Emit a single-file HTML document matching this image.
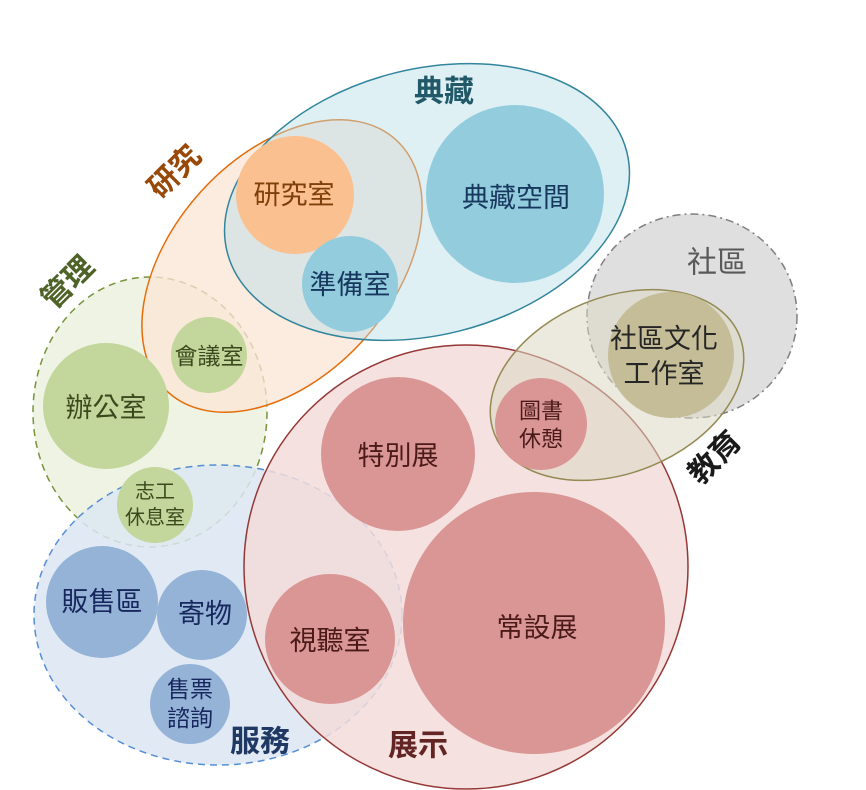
<!DOCTYPE html>
<html><head><meta charset="utf-8"><style>
html,body{margin:0;padding:0;background:#fff;}
svg{display:block}
text{font-family:"Liberation Sans","Noto Sans CJK TC",sans-serif;text-anchor:middle;dominant-baseline:central;}
</style></head><body>
<svg width="866" height="790" viewBox="0 0 866 790" xmlns="http://www.w3.org/2000/svg">
<!-- regions -->
<ellipse cx="150" cy="412" rx="117" ry="135" fill="#ebf1de" fill-opacity="0.85" stroke="#77933c" stroke-width="1.5" stroke-dasharray="7,5"/>
<ellipse cx="218" cy="615" rx="184" ry="150" fill="#dce6f2" fill-opacity="0.85" stroke="#558ed5" stroke-width="1.5" stroke-dasharray="7,5"/>
<ellipse cx="282" cy="266" rx="170" ry="110" transform="rotate(-48 282 266)" fill="#fbe5d6" fill-opacity="0.75" stroke="#e46c0a" stroke-width="1.5"/>
<ellipse cx="427" cy="202" rx="206" ry="133" transform="rotate(-14 427 202)" fill="#b7dee8" fill-opacity="0.45" stroke="#31859c" stroke-width="1.5"/>
<circle cx="466" cy="567" r="222" fill="#f2dcdb" fill-opacity="0.85" stroke="#953735" stroke-width="1.5"/>
<ellipse cx="692" cy="316" rx="105" ry="102" fill="#d9d9d9" fill-opacity="0.85" stroke="#7f7f7f" stroke-width="1.5" stroke-dasharray="8,4,2,4"/>
<ellipse cx="617" cy="385" rx="132" ry="88" transform="rotate(-22 617 385)" fill="#ddd9c3" fill-opacity="0.55" stroke="#948a54" stroke-width="1.5"/>
<!-- circles -->
<circle cx="515" cy="194" r="89" fill="#93cddd"/>
<circle cx="295" cy="195" r="59" fill="#fac090"/>
<circle cx="350" cy="284" r="48" fill="#93cddd"/>
<circle cx="209" cy="355" r="38" fill="#c3d69b"/>
<circle cx="106" cy="406" r="63" fill="#c3d69b"/>
<circle cx="155" cy="505" r="38" fill="#c3d69b"/>
<circle cx="102" cy="602" r="56" fill="#95b3d7"/>
<circle cx="202" cy="615" r="45" fill="#95b3d7"/>
<circle cx="190" cy="704" r="40" fill="#95b3d7"/>
<circle cx="330" cy="639" r="65" fill="#da9694"/>
<circle cx="398" cy="454" r="77" fill="#da9694"/>
<circle cx="534" cy="623" r="131" fill="#da9694"/>
<circle cx="541" cy="424" r="46" fill="#da9694"/>
<circle cx="671" cy="355" r="63" fill="#c4bd97"/>
<!-- circle labels -->
<g fill="#262626" font-size="27">
<text x="516" y="198" fill="#17375e">典藏空間</text>
<text x="294" y="195" fill="#7f3f0a">研究室</text>
<text x="350" y="285" fill="#17375e">準備室</text>
<text x="209" y="356" font-size="23" fill="#3b4a1e">會議室</text>
<text x="106" y="408" fill="#3b4a1e">辦公室</text>
<text x="155" y="492" font-size="20" fill="#3b4a1e">志工</text>
<text x="155" y="518" font-size="20" fill="#3b4a1e">休息室</text>
<text x="102" y="602" fill="#17275e">販售區</text>
<text x="205" y="614" fill="#17275e">寄物</text>
<text x="190" y="689" font-size="23" fill="#17275e">售票</text>
<text x="190" y="718" font-size="23" fill="#17275e">諮詢</text>
<text x="330" y="641" fill="#4a1a19">視聽室</text>
<text x="398" y="456" fill="#4a1a19">特別展</text>
<text x="537" y="628" fill="#4a1a19">常設展</text>
<text x="541" y="411" font-size="22" fill="#4a1a19">圖書</text>
<text x="541" y="439" font-size="22" fill="#4a1a19">休憩</text>
<text x="664" y="339" fill="#262626">社區文化</text>
<text x="664" y="374" fill="#262626">工作室</text>
</g>
<!-- region labels -->
<g font-size="30" font-weight="bold">
<text x="444" y="92" fill="#215968">典藏</text>
<text x="717" y="263" fill="#595959" font-weight="normal">社區</text>
<text x="260" y="742" fill="#1f3864">服務</text>
<text x="418" y="746" fill="#632523">展示</text>
<text x="175" y="172" fill="#984807" transform="rotate(-45 175 172)">研究</text>
<text x="68" y="283" fill="#4f6228" transform="rotate(-45 68 283)">管理</text>
<text x="715" y="458" fill="#1a1a1a" transform="rotate(-45 715 458)">教育</text>
</g>
</svg>
</body></html>
